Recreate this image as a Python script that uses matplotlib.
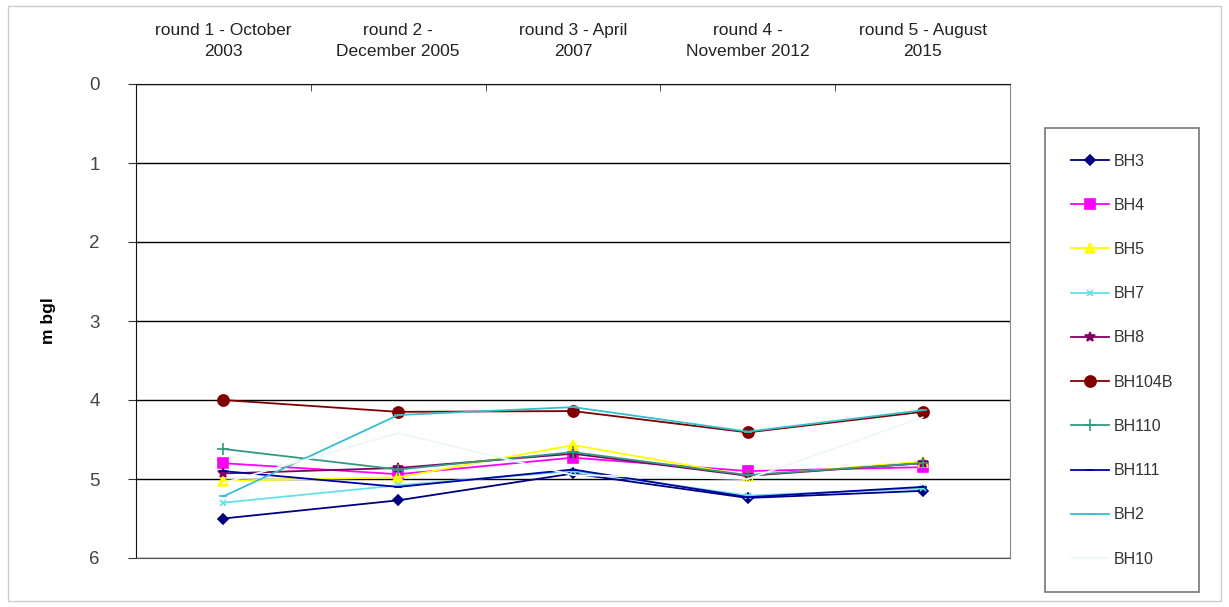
import matplotlib
matplotlib.use("Agg")
import matplotlib.pyplot as plt
from matplotlib.patches import Rectangle

plt.rcParams['font.family'] = ['Liberation Sans', 'DejaVu Sans']

# survey rounds
rounds = ["round 1 - October\n2003", "round 2 -\nDecember 2005", "round 3 - April\n2007",
          "round 4 -\nNovember 2012", "round 5 - August\n2015"]

# depth to groundwater, m below ground level
bh3 = [5.50, 5.27, 4.93, 5.24, 5.15]
bh4 = [4.80, 4.94, 4.73, 4.90, 4.85]
bh5 = [5.02, 4.98, 4.57, 4.96, 4.78]
bh7 = [5.30, 5.08, 4.90, 5.21, 5.12]
bh8 = [4.93, 4.86, 4.68, 4.96, 4.80]
bh104b = [4.00, 4.15, 4.14, 4.41, 4.15]
bh110 = [4.62, 4.88, 4.66, 4.95, 4.80]
bh111 = [4.90, 5.10, 4.88, 5.23, 5.10]
bh2 = [5.22, 4.19, 4.09, 4.40, 4.13]
bh10 = [5.05, 4.42, 4.95, 5.00, 4.22]

series = [
    ("BH3", bh3, "#000080", "D", 5),
    ("BH4", bh4, "#ff00ff", "s", 7),
    ("BH5", bh5, "#ffff00", "^", 7),
    ("BH7", bh7, "#66e0e8", "x", 4),
    ("BH8", bh8, "#800060", "*", 7),
    ("BH104B", bh104b, "#800000", "o", 8),
    ("BH110", bh110, "#339980", "+", 9),
    ("BH111", bh111, "#0000a0", "_", 6),
    ("BH2", bh2, "#33c0cc", "_", 6),
    ("BH10", bh10, "#eef8f8", "", 4),
]

fig = plt.figure(figsize=(12.29, 6.07), dpi=100)
ax = fig.add_axes([136 / 1229, 1 - 558 / 607, 874 / 1229, 474 / 607])

x = list(range(len(rounds)))
for name, vals, col, mk, ms in series:
    ax.plot(x, vals, color=col, marker=mk, markersize=ms, linewidth=1.3,
            markeredgewidth=1.2, label=name)

ax.set_xlim(-0.5, len(rounds) - 0.5)
ax.set_ylim(6, 0)
ax.set_yticks(range(0, 7))
ax.yaxis.grid(True, color="black", linewidth=1)
ax.set_axisbelow(True)

ax.xaxis.tick_top()
ax.set_xticks(x)
ax.set_xticklabels(rounds, fontsize=12.5, color="#222222", linespacing=1.5)
ax.tick_params(axis="x", length=0, pad=18)
ax.set_xticks([i + 0.5 for i in x[:-1]], minor=True)
ax.tick_params(axis="x", which="minor", top=True, length=5, direction="in", color="#333333")
ax.tick_params(axis="y", length=6, pad=20, labelsize=13.5, colors="#333333", labelcolor="#444444")

for s in ["left", "top"]:
    ax.spines[s].set_color("#111111")
ax.spines["right"].set_color("#888888")
ax.spines["bottom"].set_color("#555555")

ax.set_ylabel("m bgl", fontsize=12.5, fontweight="bold", labelpad=24)

leg = fig.legend(loc="upper left", bbox_to_anchor=(1045 / 1229, 1 - 128 / 607),
                 fontsize=11.5, labelspacing=1.83, frameon=True, fancybox=False,
                 edgecolor="#555555", handlelength=2.4, borderpad=1.6,
                 handletextpad=0.3, borderaxespad=0)
leg.get_frame().set_linewidth(1.2)
for t in leg.get_texts():
    t.set_color("#333333")

fig.patches.append(Rectangle((8 / 1229, 0.01), 1 - 16 / 1229, 0.98, transform=fig.transFigure,
                             fill=False, edgecolor="#cccccc", linewidth=1))

fig.savefig("out.png", dpi=100)
